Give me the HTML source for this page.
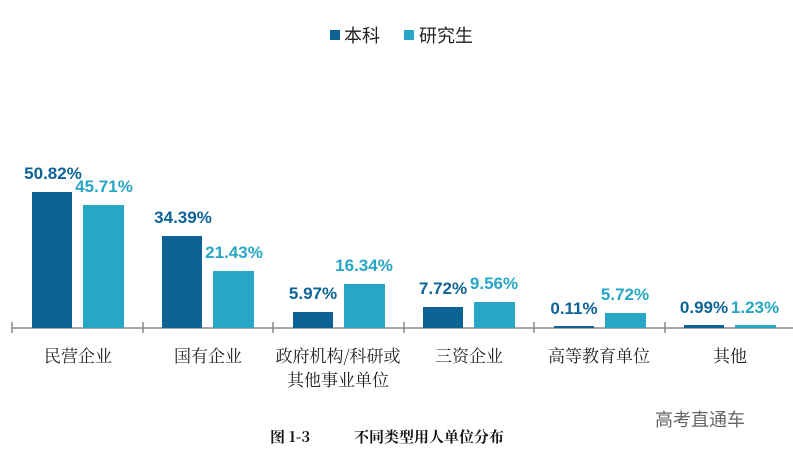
<!DOCTYPE html>
<html><head><meta charset="utf-8"><style>
body{margin:0;background:#fff;}
svg text{font-family:"Liberation Sans","Noto Sans CJK SC",sans-serif;}
.p{font-weight:bold;font-size:17px;text-anchor:middle}
.c{font-family:"Noto Serif CJK SC","Noto Sans CJK SC",serif !important;font-size:17px;fill:#222;text-anchor:middle}
</style></head><body>
<svg width="793" height="460" xmlns="http://www.w3.org/2000/svg">
<rect x="330" y="30" width="10" height="10" fill="#0d6396"/>
<text x="344" y="42" font-size="18" fill="#222">本科</text>
<rect x="404" y="30" width="10" height="10" fill="#27a6c6"/>
<text x="419" y="42" font-size="18" fill="#222">研究生</text>
<line x1="12" y1="328" x2="793" y2="328" stroke="#888" stroke-width="1.5"/>
<g stroke="#888" stroke-width="1.5">
<line x1="12" y1="322" x2="12" y2="333"/><line x1="143" y1="322" x2="143" y2="333"/><line x1="273" y1="322" x2="273" y2="333"/><line x1="404" y1="322" x2="404" y2="333"/><line x1="534" y1="322" x2="534" y2="333"/><line x1="665" y1="322" x2="665" y2="333"/>
</g>
<g fill="#0d6396">
<rect x="32" y="192" width="40" height="136"/>
<rect x="162" y="236" width="40" height="92"/>
<rect x="293" y="312" width="40" height="16"/>
<rect x="423" y="307" width="40" height="21"/>
<rect x="554" y="326" width="40" height="2"/>
<rect x="684" y="325" width="40" height="3"/>
</g>
<g fill="#27a6c6">
<rect x="83" y="205" width="41" height="123"/>
<rect x="213" y="271" width="41" height="57"/>
<rect x="344" y="284" width="41" height="44"/>
<rect x="474" y="302" width="41" height="26"/>
<rect x="605" y="313" width="41" height="15"/>
<rect x="735" y="325" width="41" height="3"/>
</g>
<g fill="#0d6396">
<text class="p" x="53" y="179">50.82%</text>
<text class="p" x="183" y="223">34.39%</text>
<text class="p" x="313" y="299">5.97%</text>
<text class="p" x="443" y="294">7.72%</text>
<text class="p" x="574" y="314">0.11%</text>
<text class="p" x="704" y="313">0.99%</text>
</g>
<g fill="#27a6c6">
<text class="p" x="104" y="192">45.71%</text>
<text class="p" x="234" y="258">21.43%</text>
<text class="p" x="364" y="271">16.34%</text>
<text class="p" x="494" y="289">9.56%</text>
<text class="p" x="625" y="300">5.72%</text>
<text class="p" x="755" y="313">1.23%</text>
</g>
<text class="c" x="78" y="362">民营企业</text>
<text class="c" x="208" y="362">国有企业</text>
<text class="c" x="338" y="362">政府机构/科研或</text>
<text class="c" x="338" y="386">其他事业单位</text>
<text class="c" x="469" y="362">三资企业</text>
<text class="c" x="599" y="362">高等教育单位</text>
<text class="c" x="730" y="362">其他</text>
<text x="270" y="442" font-size="15" font-weight="bold" fill="#111" style="font-family:'Noto Serif CJK SC',serif">图 1-3</text>
<text x="354" y="442" font-size="15" font-weight="bold" fill="#111" style="font-family:'Noto Serif CJK SC',serif">不同类型用人单位分布</text>
<text x="655" y="426" font-size="18" fill="#666">高考直通车</text>
</svg>
</body></html>
